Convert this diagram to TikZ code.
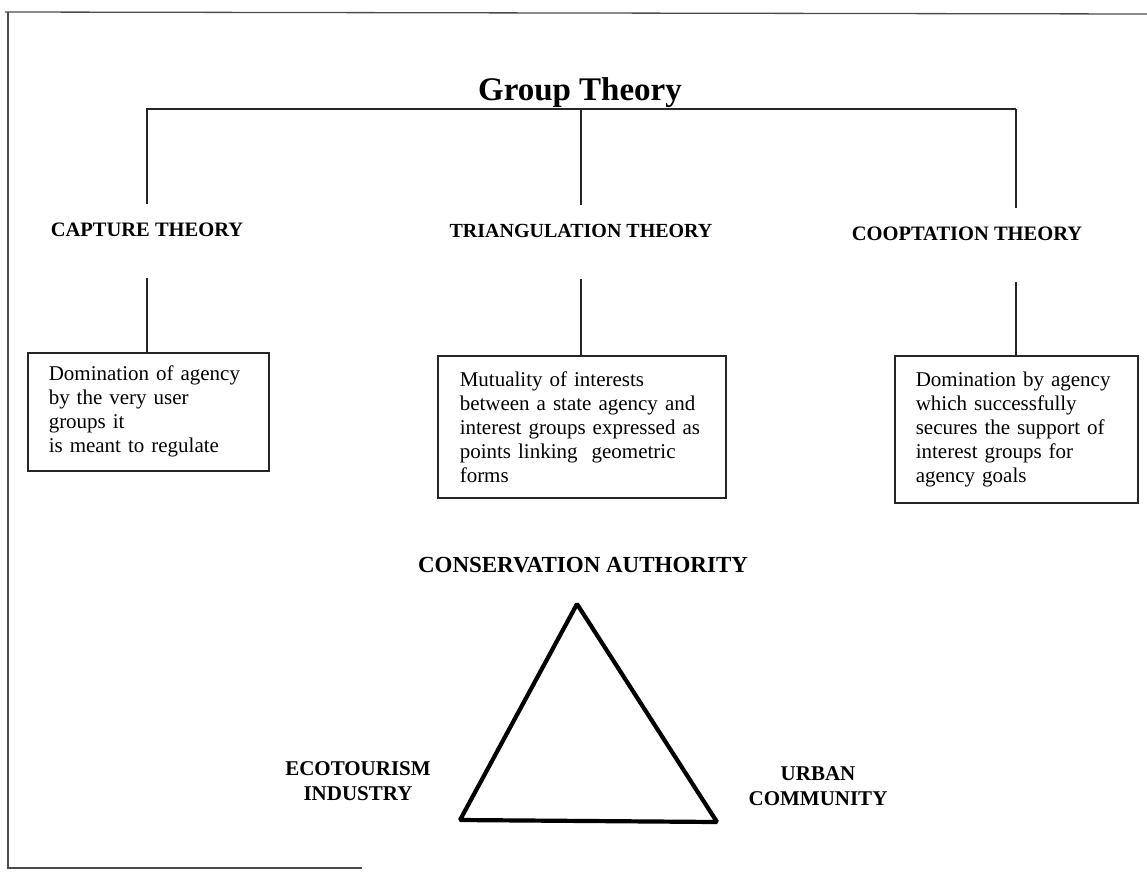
\documentclass[tikz,border=0pt]{standalone}
\usepackage{fontspec}
\setmainfont{Liberation Serif}
\begin{document}
\begin{tikzpicture}[x=1pt,y=-1pt,
  frameline/.style={draw=black!70,line width=1.3pt},
  link/.style={draw=black!85,line width=1.3pt},
  head/.style={font=\fontsize{20.5}{24}\selectfont\bfseries,anchor=base,inner sep=0pt,text height=32pt,text depth=42pt},
  descbox/.style={draw=black!85,line width=1.5pt,anchor=north west,align=left,inner ysep=0pt,
    font=\fontsize{21}{24}\selectfont},
  vertex/.style={font=\fontsize{21}{25}\selectfont\bfseries,align=center,anchor=north,inner sep=0pt}
]
\useasboundingbox (0,0) rectangle (1147,873);

% page frame
\draw[frameline] (5,12) -- (1147,14);
\draw[frameline] (8,12) -- (8,868) -- (362,868);

% title and the bar beneath it
\node[font=\fontsize{33}{36}\selectfont\bfseries,anchor=base,inner sep=0pt] (gt) at (580,100) {Group Theory};
\coordinate (barR) at (1016,109);

% theory headings
\node[head] (cap) at (147,236) {CAPTURE THEORY};
\node[head,font=\fontsize{20}{24}\selectfont\bfseries] (tri) at (581,237) {TRIANGULATION THEORY};
\node[head] (coop) at (967,240) {COOPTATION THEORY};

% description boxes
\node[descbox,inner xsep=21pt,text width=199pt,minimum height=118pt] (b1) at (27,352)
  {Domination of agency\\by the very user\\groups it\\is meant to regulate};
\node[descbox,inner xsep=22pt,text width=244pt,minimum height=142pt] (b2) at (437,355)
  {Mutuality of interests\\between a state agency and\\interest groups expressed as\\points linking\ \ geometric\\forms};
\node[descbox,inner xsep=21pt,text width=201pt,minimum height=147pt] (b3) at (894,355)
  {Domination by agency\\which successfully\\secures the support of\\interest groups for\\agency goals};

% tree connectors
\draw[link] (cap.north) |- (barR);
\draw[link] (barR) -- (barR |- coop.north);
\draw[link] (tri.north) -- (tri.north |- barR);
\draw[link] (cap.south) -- (cap.south |- b1.north);
\draw[link] (tri.south) -- (tri.south |- b2.north);
\draw[link] (barR |- coop.south) -- (barR |- b3.north);

% triangle of actors
\node[font=\fontsize{23}{26}\selectfont\bfseries,anchor=base,inner sep=0pt] (ca) at (583,572) {CONSERVATION AUTHORITY};
\node[vertex] (eco) at (358,761) {ECOTOURISM\\INDUSTRY};
\node[vertex] (urb) at (818,766) {URBAN\\COMMUNITY};
\coordinate (apex) at (577,604);
\coordinate (bl) at (460,820);
\coordinate (br) at (717,822);
\draw[line width=4.2pt,line join=bevel] (apex) -- (bl) -- (br) -- cycle;
\end{tikzpicture}
\end{document}
